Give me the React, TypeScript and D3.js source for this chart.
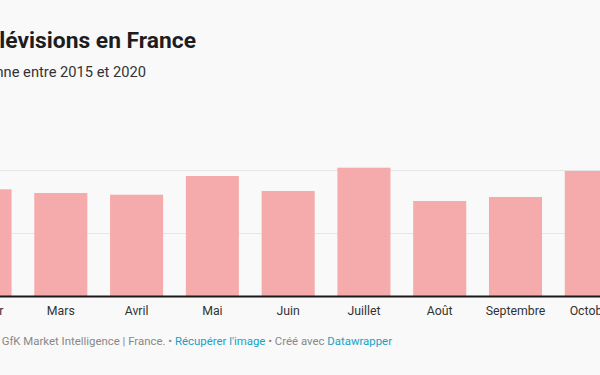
import React from "react";
import * as d3 from "d3";

const months = ["Février", "Mars", "Avril", "Mai", "Juin", "Juillet", "Août", "Septembre", "Octobre"];
const sales = [337600, 326000, 320600, 379500, 332300, 405700, 300800, 313400, 395300];
const gridTicks = [0, 200000, 400000];

const W = 600;
const H = 375;

export default function App() {
  const x = d3
    .scaleBand<string>()
    .domain(months)
    .range([-41.5, 617.8])
    .paddingInner(0.3)
    .paddingOuter(0);
  const y = d3.scaleLinear().domain([0, 400000]).range([296.5, 169.5]);
  const font = "Roboto, 'Noto Sans', sans-serif";
  return (
    <div style={{ position: "absolute", left: 0, top: 0, width: W, height: H, overflow: "hidden" }}>
      <svg width={W} height={H} style={{ display: "block", background: "#f9f9f9" }} fontFamily={font}>
        <rect x={0} y={0} width={W} height={H} fill="#f9f9f9" />
        <text x={196} y={48} textAnchor="end" fontSize={22.8} fontWeight={700} fill="#1d1d1d">
          Ventes de télévisions en France
        </text>
        <text x={146} y={77} textAnchor="end" fontSize={14.7} fill="#333">
          Nombre de télévisions vendues par mois, en moyenne entre 2015 et 2020
        </text>
        {gridTicks.slice(1).map((t) => (
          <line key={t} x1={0} x2={W} y1={Math.round(y(t)) + 0.5} y2={Math.round(y(t)) + 0.5} stroke="#e6e6e6" strokeWidth={1} />
        ))}
        {months.map((m, i) => (
          <rect key={m} x={x(m)} y={y(sales[i])} width={x.bandwidth()} height={y(0) - y(sales[i])} fill="#f5aaab" />
        ))}
        <line x1={0} x2={W} y1={y(0)} y2={y(0)} stroke="#1a1a1a" strokeWidth={2} />
        {months.map((m) => (
          <text key={m} x={(x(m) as number) + x.bandwidth() / 2} y={315} textAnchor="middle" fontSize={12.3} fill="#333">
            {m}
          </text>
        ))}
        <text x={392} y={345} textAnchor="end" fontSize={11.4} fill="#888">
          <tspan>Source :  GfK Market Intelligence | France. • </tspan>
          <tspan fill="#17a2c3">Récupérer l'image</tspan>
          <tspan> • Créé avec </tspan>
          <tspan fill="#17a2c3">Datawrapper</tspan>
        </text>
      </svg>
    </div>
  );
}
